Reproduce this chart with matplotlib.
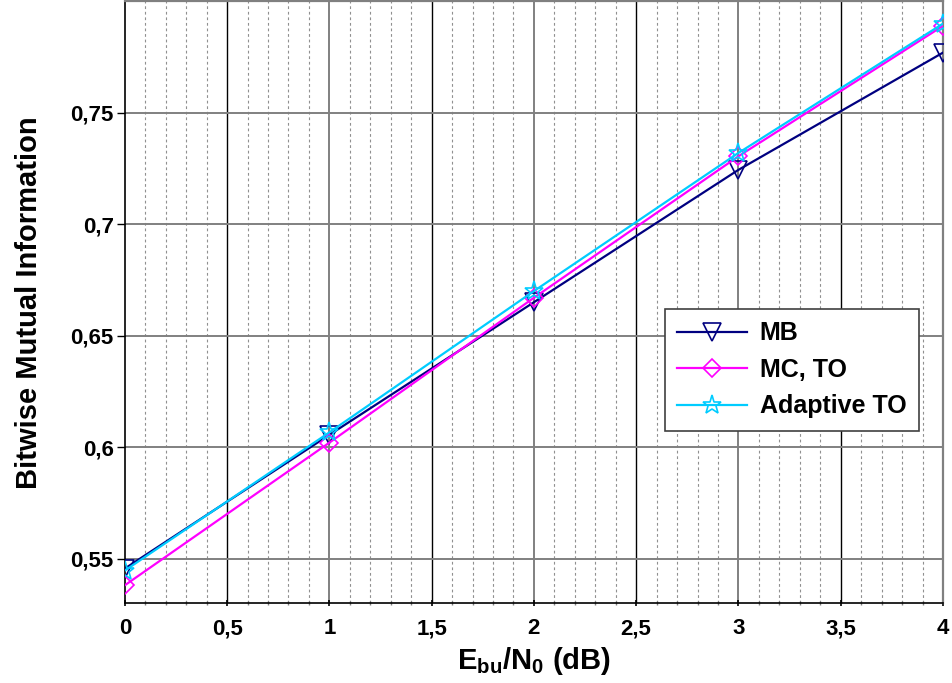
import matplotlib
matplotlib.use('Agg')
import matplotlib.pyplot as plt
import numpy as np
from matplotlib.ticker import MultipleLocator, FuncFormatter

plt.rcParams['font.family'] = ['Liberation Sans', 'DejaVu Sans']
plt.rcParams['font.weight'] = 'bold'
plt.rcParams['mathtext.fontset'] = 'custom'
plt.rcParams['mathtext.rm'] = 'Liberation Sans:bold'
plt.rcParams['mathtext.bf'] = 'Liberation Sans:bold'

# values
ebn0 = [0, 1, 2, 3, 4]
mb = [0.5455, 0.6055, 0.665, 0.7244, 0.777]
mc_to = [0.538, 0.602, 0.667, 0.7305, 0.789]
adaptive_to = [0.5446, 0.6066, 0.670, 0.732, 0.790]
labels = ['MB', 'MC, TO', 'Adaptive TO']

GRID_GRAY = '#808080'


def comma(v, pos):
    s = ('%.2f' % v).rstrip('0').rstrip('.')
    return s.replace('.', ',')


fig = plt.figure(figsize=(9.53, 6.83), dpi=100)
ax = fig.add_axes([0.131, 0.117, 0.8585, 0.881])

ax.set_xlim(0, 4)
ax.set_ylim(0.53, 0.8)

# grid: dashed minor verticals, solid majors
for xv in np.arange(0.1, 4.0, 0.1):
    if abs(xv * 2 - round(xv * 2)) > 1e-6:
        ax.axvline(xv, color='#909090', ls=(0, (2.5, 2.5)), lw=0.8, zorder=1)
for xv in [0.5, 1.5, 2.5, 3.5]:
    ax.axvline(xv, color='black', lw=1.0, zorder=1)
for xv in [1, 2, 3]:
    ax.axvline(xv, color=GRID_GRAY, lw=1.4, zorder=1)
for yv in [0.55, 0.6, 0.65, 0.7, 0.75]:
    ax.axhline(yv, color=GRID_GRAY, lw=1.4, zorder=1)

ax.plot(ebn0, mb, color='#000080', lw=1.6, marker='v', ms=13, mfc='none',
        mec='#000080', mew=1.2, label=labels[0], zorder=3)
ax.plot(ebn0, mc_to, color='#ff00ff', lw=1.6, marker='D', ms=9, mfc='none',
        mec='#ff00ff', mew=1.2, label=labels[1], zorder=3)
ax.plot(ebn0, adaptive_to, color='#00ccff', lw=1.6, marker='*', ms=14, mfc='none',
        mec='#00ccff', mew=1.2, label=labels[2], zorder=3)

ax.xaxis.set_major_locator(MultipleLocator(0.5))
ax.xaxis.set_minor_locator(MultipleLocator(0.1))
ax.xaxis.set_major_formatter(FuncFormatter(comma))
ax.yaxis.set_major_formatter(FuncFormatter(comma))
ax.set_yticks([0.55, 0.6, 0.65, 0.7, 0.75])
ax.tick_params(axis='x', which='major', length=5, width=1.2, direction='inout',
               pad=8.5, labelsize=16)
ax.tick_params(axis='x', which='minor', length=3.5, width=1, color=GRID_GRAY,
               direction='inout')
ax.tick_params(axis='y', length=6, width=1, direction='out', pad=2, labelsize=16)

for side in ['left', 'bottom']:
    ax.spines[side].set_color('black')
    ax.spines[side].set_linewidth(1.2)
for side in ['top', 'right']:
    ax.spines[side].set_color(GRID_GRAY)
    ax.spines[side].set_linewidth(1.6)

ax.set_xlabel(r'$\mathregular{E_{bu}/N_0}$ (dB)', fontsize=21, fontweight='bold', labelpad=4)
ax.set_ylabel('Bitwise Mutual Information', fontsize=21, fontweight='bold', labelpad=20)

leg = ax.legend(loc='upper left', bbox_to_anchor=(0.66, 0.489), fancybox=False,
                framealpha=1, edgecolor='#404040', prop={'weight': 'bold', 'size': 18},
                handlelength=2.8, borderpad=0.5, labelspacing=0.5, handletextpad=0.5,
                borderaxespad=0)
leg.get_frame().set_linewidth(1.2)
leg.set_zorder(5)

plt.savefig('out.png', dpi=100)
